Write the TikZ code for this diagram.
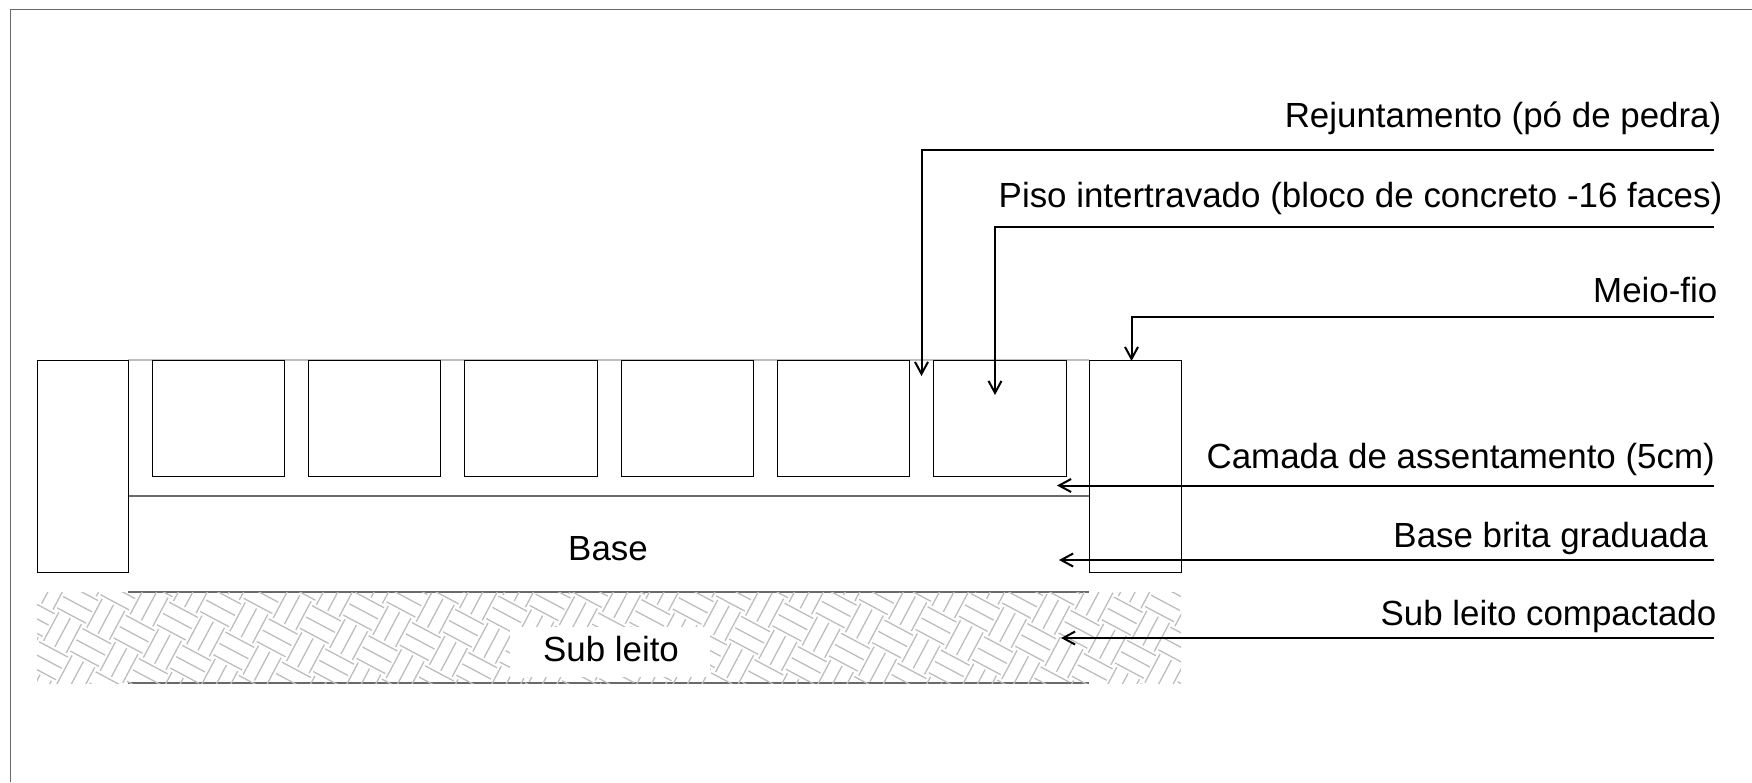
\documentclass[tikz,border=0pt]{standalone}
\usepackage{fontspec}
\setmainfont{Liberation Sans}
\usetikzlibrary{arrows.meta}
\definecolor{hatchgray}{HTML}{BDBDBD}
\definecolor{edgegray}{HTML}{6A6A6A}
\tikzset{
  blockbox/.style={draw=black,line width=1pt,anchor=north west,inner sep=0pt,outer sep=0pt},
  lbl/.style={anchor=base east,inner sep=0pt,font=\fontsize{34.9}{40}\selectfont,text=black},
  midlbl/.style={anchor=base,inner sep=0pt,font=\fontsize{34.9}{40}\selectfont,text=black},
  leader/.style={draw=black,line width=2pt,-{Straight Barb[length=12pt,width=13pt,line width=2pt]}},
  layerline/.style={draw=edgegray,line width=1.4pt},
  frameline/.style={draw=edgegray,line width=1.8pt},
  hatchline/.style={draw=hatchgray,line width=1.3pt}
}
\begin{document}
\begin{tikzpicture}[x=1pt,y=-1pt]
\useasboundingbox (0,0) rectangle (1752,782);
% frame
\draw[frameline] (1752,9.5) -- (10.5,9.5) -- (10.5,782);
% layer lines below the hatch
\draw[layerline] (128,592) -- (1089,592);
\draw[layerline] (128,683) -- (1089,683);
% hatch
\begin{scope}
\clip (37,592) rectangle (1181,683);
\begin{scope}[shift={(90.8,647.5)},rotate=-28]
\foreach \ii in {-4,...,37}{
  \foreach \jj in {-21,...,6}{
    \pgfmathtruncatemacro{\parity}{mod(abs(\ii+\jj),2)}
    \pgfmathsetmacro{\cu}{\ii*32.0}
    \pgfmathsetmacro{\cv}{\jj*32.0}
    \ifnum\parity=0
      \foreach \off in {-12.8,0,12.8}{
        \draw[hatchline] (\cu-16.3,\cv+\off) -- (\cu+16.3,\cv+\off);
      }
    \else
      \foreach \off in {-12.8,0,12.8}{
        \draw[hatchline] (\cu+\off,\cv-16.3) -- (\cu+\off,\cv+16.3);
      }
    \fi
  }
}
\end{scope}
\end{scope}
\fill[white] (510,627) rectangle (710,677);
% layer lines
\draw[layerline] (128,496) -- (1089,496);
\draw[draw=hatchgray,line width=1.4pt] (128,360) -- (1089,360);
% boxes
\node[blockbox,minimum width=91pt,minimum height=212pt] (curbL) at (37,360) {};
\node[blockbox,minimum width=92pt,minimum height=212pt] (curbR) at (1089,360) {};
\node[blockbox,minimum width=132pt,minimum height=116pt] (b1) at (152,360) {};
\node[blockbox,minimum width=132pt,minimum height=116pt] (b2) at (308,360) {};
\node[blockbox,minimum width=133pt,minimum height=116pt] (b3) at (464,360) {};
\node[blockbox,minimum width=132pt,minimum height=116pt] (b4) at (621,360) {};
\node[blockbox,minimum width=132pt,minimum height=116pt] (b5) at (777,360) {};
\node[blockbox,minimum width=133pt,minimum height=116pt] (b6) at (933,360) {};
% labels
\node[lbl] (rej) at (1721.5,127.5) {Rejuntamento (pó de pedra)};
\node[lbl] (piso) at (1722.5,207) {Piso intertravado (bloco de concreto -16 faces)};
\node[lbl] (meio) at (1717.5,302.5) {Meio-fio};
\node[lbl] (cam) at (1715,468.5) {Camada de assentamento (5cm)};
\node[lbl] (bbg) at (1708,547.5) {Base brita graduada};
\node[lbl] (sub) at (1716.5,625) {Sub leito compactado};
\node[midlbl] (base) at (608,560) {Base};
\node[midlbl] (subl) at (611,661) {Sub leito};
% leader ends
\coordinate (rejS) at (1714,150);
\coordinate (rejT) at (921.5,376);
\coordinate (pisoS) at (1714,227);
\coordinate (pisoT) at (995,395);
\coordinate (meioS) at (1714,317);
\coordinate (meioT) at (1131.5,361);
\coordinate (camS) at (1714,485.5);
\coordinate (camT) at (1057,485.5);
\coordinate (bbgS) at (1714,560);
\coordinate (bbgT) at (1059,560);
\coordinate (subS) at (1714,638);
\coordinate (subT) at (1061,638);
\draw[leader] (rejS) -| (rejT);
\draw[leader] (pisoS) -| (pisoT);
\draw[leader] (meioS) -| (meioT);
\draw[leader] (camS) -- (camT);
\draw[leader] (bbgS) -- (bbgT);
\draw[leader] (subS) -- (subT);
\end{tikzpicture}
\end{document}
